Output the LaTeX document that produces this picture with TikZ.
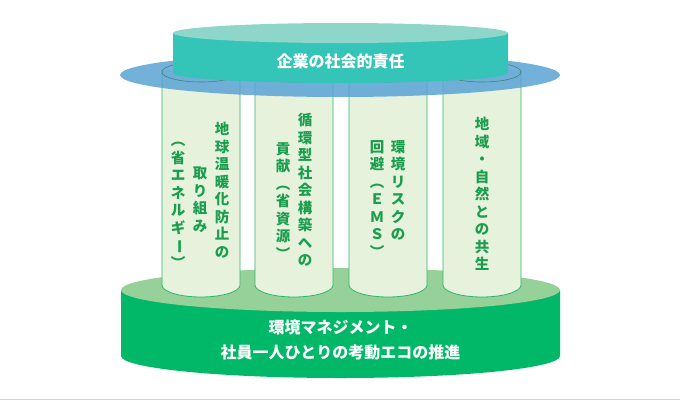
\documentclass[tikz,border=0pt]{standalone}
\usepackage{fontspec}
\newfontfamily\cjk{Noto Sans CJK JP}
\usetikzlibrary{positioning}
\definecolor{basegreen}{HTML}{00B868}
\definecolor{basetop}{HTML}{96D19A}
\definecolor{pillarfill}{HTML}{E6F2DC}
\definecolor{pillarline}{HTML}{2DB56A}
\definecolor{pillartext}{HTML}{1A9E4E}
\definecolor{ringblue}{HTML}{5BA3D5}
\definecolor{capteal}{HTML}{35C4B8}
\definecolor{captop}{HTML}{8FD6CA}
\tikzset{
  pillar/.style={fill=pillarfill,draw=pillarline,line width=0.8pt},
  tatecol/.style={anchor=north,inner sep=0pt,align=center,text=pillartext,
    font=\cjk\bfseries\fontsize{14.5}{17.5}\selectfont},
  bigtext/.style={text=white,align=center,font=\cjk\bfseries\fontsize{16}{25}\selectfont}
}
\newcommand{\vbar}{\rotatebox[origin=c]{-90}{ー}}
\begin{document}
\begin{tikzpicture}[x=1pt,y=-1pt]
\useasboundingbox (0,0) rectangle (680,400);
\draw[gray!35,line width=1pt] (0,399) -- (680,399);
% base
\fill[basegreen] (121,290) -- (121,356) arc[start angle=180,end angle=0,x radius=219.5,y radius=22] -- (560,290) -- cycle;
\fill[basetop] (340.5,290) ellipse[x radius=219.5,y radius=22];
% pillars
\foreach \px in {162,255,349,443}{
  \draw[pillar] (\px,70) -- (\px,285) arc[start angle=180,end angle=0,x radius=39,y radius=12] -- (\px+78,70);
}
% ring
\fill[ringblue,opacity=0.85] (340,75) ellipse[x radius=220,y radius=22];
\foreach \px in {162,255,349,443}
  \draw[pillarline!60!black,line width=0.6pt,opacity=0.6] (\px+39,72) ellipse[x radius=39,y radius=10];
% cap
\fill[capteal] (173,33) -- (173,73) arc[start angle=180,end angle=0,x radius=167.5,y radius=10] -- (508,33) -- cycle;
\fill[captop] (340.5,33) ellipse[x radius=167.5,y radius=10];
\node[bigtext] (cap) at (340.5,61) {企業の社会的責任};
\node[bigtext] (base) at (340.5,340) {環境マネジメント・\\社員一人ひとりの考動エコの推進};
% pillar texts
\node[tatecol] (p1a) at (222,122) {地\\球\\温\\暖\\化\\防\\止\\の};
\node[tatecol] (p1b) at (200,167) {取\\り\\組\\み};
\node[tatecol] (p1c) at (178,142) {︵\\省\\エ\\ネ\\ル\\ギ\\\vbar\\︶};
\node[tatecol] (p2a) at (305,113) {循\\環\\型\\社\\会\\構\\築\\へ\\の};
\node[tatecol] (p2b) at (283,142) {貢\\献\\︵\\省\\資\\源\\︶};
\node[tatecol] (p3a) at (398,140) {環\\境\\リ\\ス\\ク\\の};
\node[tatecol] (p3b) at (377,140) {回\\避\\︵\\Ｅ\\Ｍ\\Ｓ\\︶};
\node[tatecol] (p4a) at (482,117) {地\\域\\・\\自\\然\\と\\の\\共\\生};
\end{tikzpicture}
\end{document}
